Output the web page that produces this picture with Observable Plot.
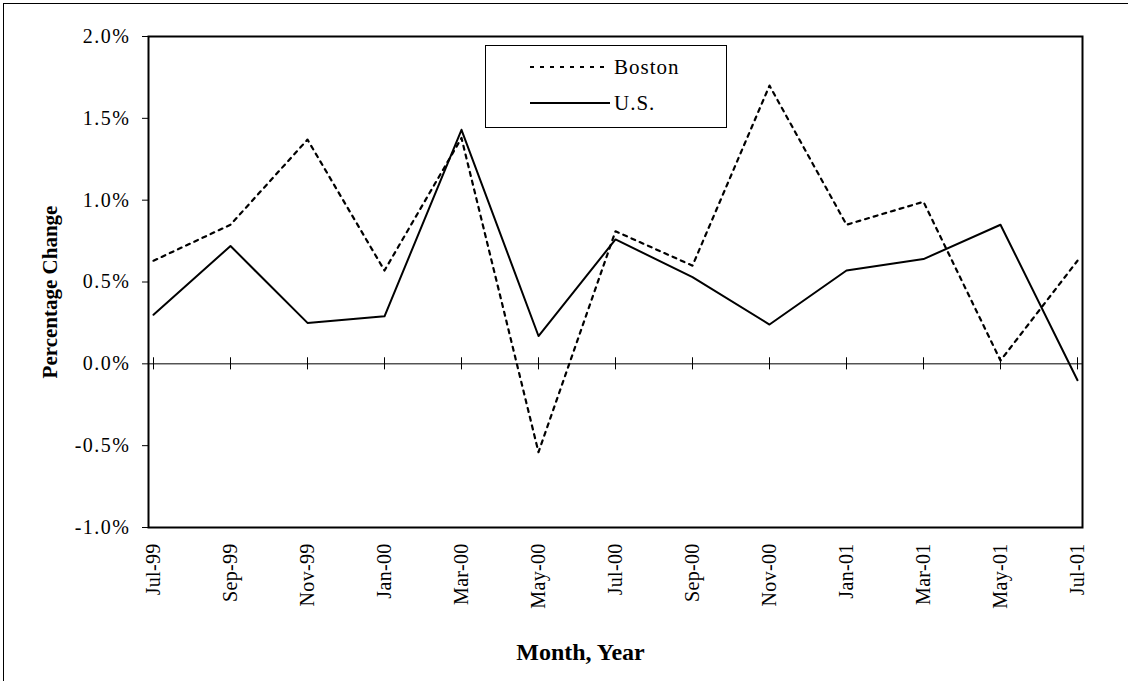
<!DOCTYPE html>
<html>
<head>
<meta charset="utf-8">
<script src="https://cdn.jsdelivr.net/npm/d3@7"></script>
<script src="https://cdn.jsdelivr.net/npm/@observablehq/plot@0.6"></script>
<style>
  html, body { margin: 0; padding: 0; background: #fff; overflow: hidden; }
  #wrap { position: relative; width: 1128px; height: 681px; }
  #border { position: absolute; left: 3px; top: 3px; width: 1200px; height: 800px; border: 1px solid #000; pointer-events: none; }
  #legend { position: absolute; left: 485px; top: 45px; width: 240px; height: 81px; border: 1px solid #000; background: #fff; font-family: "Liberation Serif", "Times New Roman", serif; font-size: 21px; }
  #legend .row { position: absolute; left: 0; display: flex; align-items: center; }
  #legend svg { display: block; }
  svg [aria-label="y-axis tick label"] text { letter-spacing: 1.5px; }
  svg [aria-label="x-axis tick label"] text { letter-spacing: 0.3px; }
</style>
</head>
<body>
<div id="wrap">
  <div id="chart"></div>
  <div id="legend"></div>
  <div id="border"></div>
</div>
<script>
const months = ["Jul-99","Sep-99","Nov-99","Jan-00","Mar-00","May-00","Jul-00","Sep-00","Nov-00","Jan-01","Mar-01","May-01","Jul-01"];
const boston = [0.63, 0.85, 1.37, 0.57, 1.38, -0.54, 0.81, 0.60, 1.70, 0.85, 0.99, 0.02, 0.63];
const us = [0.30, 0.72, 0.25, 0.29, 1.43, 0.17, 0.76, 0.53, 0.24, 0.57, 0.64, 0.85, -0.10];
const yTicks = [-1, -0.5, 0, 0.5, 1, 1.5, 2];
const seriesNames = ["Boston", "U.S."];
const yLabel = "Percentage Change";
const xLabel = "Month, Year";

const rows = months.flatMap((m, i) => [
  {month: m, series: "Boston", value: boston[i]},
  {month: m, series: "U.S.", value: us[i]}
]);

const font = "'Liberation Serif', 'Times New Roman', serif";

const chart = Plot.plot({
  width: 1128,
  height: 681,
  marginLeft: 148,
  marginRight: 46,
  marginTop: 36,
  marginBottom: 154,
  style: {fontFamily: font, background: "transparent", color: "#000"},
  x: {type: "point", domain: months, padding: 0},
  y: {domain: [-1, 2]},
  marks: [
    Plot.ruleY([0], {stroke: "#000", strokeWidth: 1}),
    Plot.ruleX(months, {x: d => d, y1: -0.037, y2: 0.037, stroke: "#000", strokeWidth: 1}),
    Plot.line(rows.filter(d => d.series === "Boston"), {x: "month", y: "value", stroke: "#000", strokeWidth: 2.2, strokeDasharray: "4,5"}),
    Plot.line(rows.filter(d => d.series === "U.S."), {x: "month", y: "value", stroke: "#000", strokeWidth: 2}),
    Plot.frame({stroke: "#000", strokeWidth: 2}),
    Plot.axisY({ticks: yTicks, tickSize: 6, tickPadding: 12, tickFormat: d => d.toFixed(1) + "%", fontSize: 20, label: null}),
    Plot.axisX({tickRotate: -90, tickSize: 0, tickPadding: 16, fontSize: 20, label: null}),
    Plot.text([yLabel], {text: d => d, frameAnchor: "left", textAnchor: "middle", lineAnchor: "middle", dx: -98, dy: 10, rotate: -90, fontSize: 21, fontWeight: "bold", fill: "#000"}),
    Plot.text([xLabel], {text: d => d, frameAnchor: "bottom", textAnchor: "middle", lineAnchor: "middle", dx: -35, dy: 125, fontSize: 24, fontWeight: "bold", fill: "#000", style: "letter-spacing:1px"})
  ]
});
document.getElementById("chart").appendChild(chart);

// legend
const legend = document.getElementById("legend");
const dashes = {"Boston": "4,6", "U.S.": null};
seriesNames.forEach((name, i) => {
  const row = document.createElement("div");
  row.className = "row";
  row.style.top = (i === 0 ? 6 : 42) + "px";
  row.style.left = "44px";
  const s = d3.create("svg").attr("width", 84).attr("height", 30);
  s.append("line").attr("x1", 0).attr("x2", 80).attr("y1", 15).attr("y2", 15)
    .attr("stroke", "#000").attr("stroke-width", 2)
    .attr("stroke-dasharray", dashes[name]);
  row.appendChild(s.node());
  const t = document.createElement("span");
  t.textContent = name;
  t.style.letterSpacing = "1px";
  row.appendChild(t);
  legend.appendChild(row);
});
</script>
</body>
</html>
